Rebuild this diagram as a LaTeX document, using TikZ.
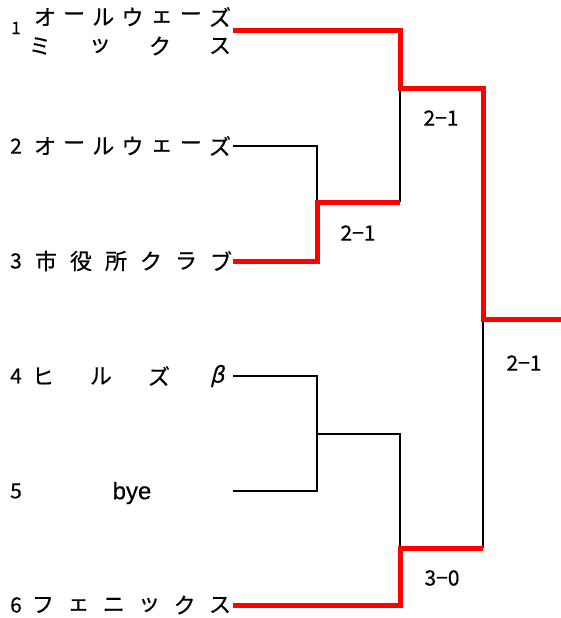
\documentclass[tikz,border=0pt]{standalone}
\usepackage{fontspec}
\setmainfont{Noto Sans CJK JP}[FakeBold=0.5]
\newfontfamily\slantfont{Noto Sans CJK JP}[FakeSlant=0.25,FakeBold=0.5]
\newfontfamily\latinfont{Liberation Sans}[FakeBold=0.4]
\begin{document}
\begin{tikzpicture}[x=1pt,y=-1pt,
    teamch/.style={inner sep=0pt,font=\fontsize{22}{24}\selectfont},
    seednum/.style={inner sep=0pt,font=\fontsize{21}{24}\selectfont},
    scorelbl/.style={inner sep=0pt,font=\fontsize{21}{24}\selectfont},
    loseline/.style={line width=1.6pt,black},
    winline/.style={line width=5pt,red}]
\useasboundingbox (0,0) rectangle (561,618);
% entries
\node[seednum,font=\fontsize{17}{18}\selectfont] (s1) at (16,28) {1};
\foreach \ch [count=\k] in {オ,ー,ル,ウ,ェ,ー,ズ}
  \node[teamch] (a\k) at ({45+(\k-1)*175/6},17) {\ch};
\foreach \ch [count=\k] in {ミ,ッ,ク,ス}
  \node[teamch] (b\k) at ({40+(\k-1)*60},46) {\ch};
\node[seednum] (s2) at (16,146) {2};
\foreach \ch [count=\k] in {オ,ー,ル,ウ,ェ,ー,ズ}
  \node[teamch] (c\k) at ({45+(\k-1)*175/6},146) {\ch};
\node[seednum] (s3) at (16,261) {3};
\foreach \ch [count=\k] in {市,役,所,ク,ラ,ブ}
  \node[teamch] (d\k) at ({46+(\k-1)*35},261) {\ch};
\node[seednum] (s4) at (16,376) {4};
\foreach \ch [count=\k] in {ヒ,ル,ズ}
  \node[teamch] (e\k) at ({43+(\k-1)*58},376) {\ch};
\node[teamch,font=\slantfont\fontsize{22}{24}\selectfont] (e4) at (217,376) {β};
\node[seednum] (s5) at (16,491) {5};
\node[teamch,font=\latinfont\fontsize{24}{26}\selectfont] (bye) at (132,493) {bye};
\node[seednum] (s6) at (16,605) {6};
\foreach \ch [count=\k] in {フ,ェ,ニ,ッ,ク,ス}
  \node[teamch] (f\k) at ({43+(\k-1)*35.4},605) {\ch};
% line ends
\coordinate (t1) at (233,31);
\coordinate (t2) at (233,146);
\coordinate (t3) at (233,261);
\coordinate (t4) at (233,376);
\coordinate (t5) at (233,491);
\coordinate (t6) at (233,605);
\coordinate (w23) at (400,202);
\coordinate (w45) at (400,434);
\coordinate (w123) at (483,88);
\coordinate (w456) at (483,548);
\coordinate (champ) at (561,319);
% bracket
\draw[loseline] (t2) -| (317,202);
\draw[loseline] (t4) -| (317,491) -- (t5);
\draw[loseline] (317,434) -- (w45) -- (400,548);
\draw[loseline] (w23) -- (400,88);
\draw[loseline] (w456) -- (483,319);
\draw[winline] (t1) -| (400,88) -- (w123) |- (champ);
\draw[winline] (t3) -| (317,202) -- (w23);
\draw[winline] (t6) -| (400,548) -- (w456);
% scores
\node[scorelbl] (r1) at (441,118) {2−1};
\node[scorelbl] (r2) at (358,233) {2−1};
\node[scorelbl] (r3) at (524,363) {2−1};
\node[scorelbl] (r4) at (442,578) {3−0};
\end{tikzpicture}
\end{document}
